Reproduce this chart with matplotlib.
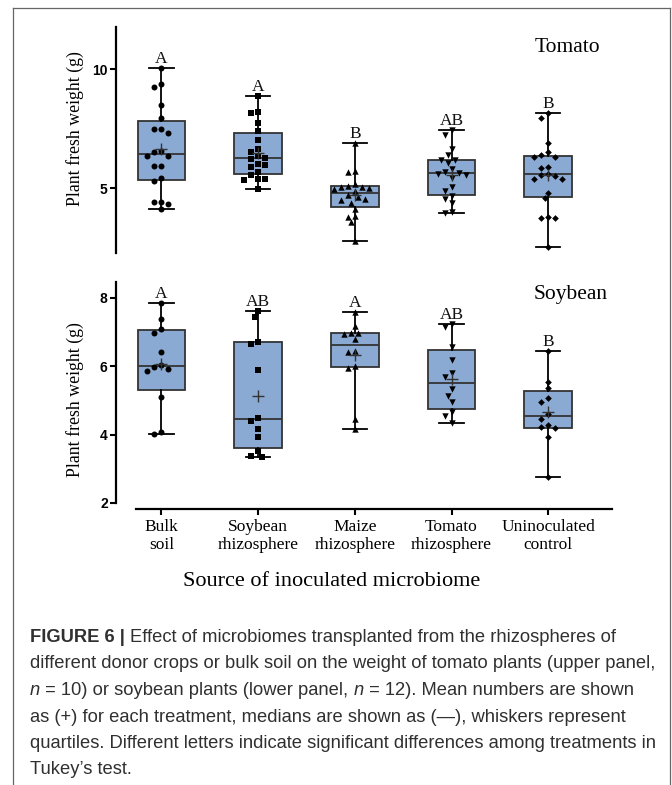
import numpy as np
import matplotlib
matplotlib.use("Agg")
import matplotlib.pyplot as plt
from matplotlib.lines import Line2D

# ---------------- data ----------------
categories = ["Bulk\nsoil", "Soybean\nrhizosphere", "Maize\nrhizosphere",
              "Tomato\nrhizosphere", "Uninoculated\ncontrol"]

tomato_bulk = [10.07, 9.38, 9.24, 8.50, 7.97, 7.48, 7.48, 7.31, 6.57, 6.54,
               6.37, 6.37, 5.94, 5.94, 5.45, 5.32, 4.44, 4.41, 4.34, 4.13]
tomato_soybean = [8.88, 8.21, 8.17, 7.76, 7.41, 7.03, 6.64, 6.54, 6.34, 6.27,
                  6.24, 6.03, 5.98, 5.88, 5.70, 5.55, 5.38, 5.38, 5.33, 4.97]
tomato_maize = [6.92, 5.72, 5.70, 5.18, 5.10, 5.07, 5.04, 5.00, 4.97, 4.88,
                4.72, 4.62, 4.55, 4.50, 4.40, 4.15, 3.84, 3.81, 3.57, 2.79]
tomato_tomato = [7.46, 7.24, 6.64, 6.40, 6.20, 6.18, 6.05, 5.80, 5.70, 5.66,
                 5.60, 5.56, 5.45, 5.07, 4.90, 4.68, 4.54, 4.37, 4.02, 3.97]
tomato_uninoc = [8.18, 7.97, 6.92, 6.54, 6.38, 6.33, 6.30, 5.91, 5.84, 5.62,
                 5.56, 5.52, 5.38, 5.38, 4.82, 4.58, 3.81, 3.74, 3.74, 2.55]

soy_bulk = [7.86, 7.37, 7.08, 6.98, 6.40, 6.03, 5.98, 5.91, 5.87, 5.11, 4.07, 4.02]
soy_soybean = [7.62, 7.44, 6.71, 6.65, 5.89, 4.49, 4.41, 4.15, 3.92, 3.52, 3.37, 3.35]
soy_maize = [7.59, 7.17, 6.98, 6.96, 6.95, 6.79, 6.44, 6.42, 6.00, 5.95, 4.47, 4.15]
soy_tomato = [7.23, 7.15, 6.57, 6.18, 5.79, 5.67, 5.33, 5.14, 4.96, 4.67, 4.54, 4.33]
soy_uninoc = [6.45, 5.55, 5.35, 5.08, 4.96, 4.60, 4.46, 4.28, 4.23, 4.18, 3.92, 2.77]

tomato_letters = ["A", "A", "B", "AB", "B"]
soybean_letters = ["A", "AB", "A", "AB", "B"]

tomato_yticks = [5, 10]
soybean_yticks = [2, 4, 6, 8]

panel_titles = ["Tomato", "Soybean"]
ylabel = "Plant fresh weight (g)"
xlabel = "Source of inoculated microbiome"

# ---------------- styles ----------------
markers = ["o", "s", "^", "v", "D"]
msizes = [4.3, 4.0, 4.6, 4.6, 3.4]
SERIF = "Liberation Serif"
SANS = "Liberation Sans"
BOXFACE = "#8aaad4"
EDGE = "#333333"

W, H = 672, 785
fig = plt.figure(figsize=(W / 100, H / 100), dpi=100)


def fx(px):
    return px / W


def fy(py):
    return 1 - py / H


axT = fig.add_axes([fx(116), fy(253), fx(612) - fx(116), fy(27) - fy(253)])
axB = fig.add_axes([fx(116), fy(503), fx(612) - fx(116), fy(282) - fy(503)])

XLIM = (-0.47, 4.66)


def stats(vals):
    v = np.asarray(vals, float)
    q1, med, q3 = np.percentile(v, [25, 50, 75], method="weibull")
    return dict(med=med, q1=q1, q3=q3, whislo=v.min(), whishi=v.max(),
                mean=v.mean(), fliers=[])


def swarm_x(ax, pos, vals, diam):
    vals = np.asarray(vals, float)
    tr = ax.transData
    pts = tr.transform(np.column_stack([np.full(len(vals), pos), vals]))
    order = np.argsort(-vals)
    placed = []
    xs = np.empty(len(vals))
    cands = [0.0]
    for j in range(1, 30):
        cands += [-j * 0.5, j * 0.5]
    for i in order:
        x0, y0 = pts[i]
        for c in cands:
            x = x0 + c * diam
            ok = all((x - px) ** 2 + (y0 - py) ** 2 >= (diam * 0.95) ** 2
                     for px, py in placed)
            if ok:
                break
        placed.append((x, y0))
        xs[i] = x
    back = tr.inverted().transform(np.column_stack([xs, pts[:, 1]]))
    return back[:, 0]


def draw_panel(ax, groups, letters, ylim, yticks):
    ax.set_xlim(*XLIM)
    ax.set_ylim(*ylim)
    st = [stats(g) for g in groups]
    ax.bxp(st, positions=range(len(groups)), widths=0.49, capwidths=0.25,
           patch_artist=True, showmeans=True, manage_ticks=False,
           boxprops=dict(facecolor=BOXFACE, edgecolor=EDGE, linewidth=1.3),
           medianprops=dict(color=EDGE, linewidth=1.3),
           whiskerprops=dict(color="black", linewidth=1.3),
           capprops=dict(color="black", linewidth=1.3),
           meanprops=dict(marker="+", markeredgecolor=EDGE, markersize=8,
                          markeredgewidth=1.0, zorder=6))
    for i, g in enumerate(groups):
        xs = swarm_x(ax, i, g, 7.0)
        ax.scatter(xs, g, marker=markers[i], s=msizes[i] ** 2, color="black",
                   linewidths=0, zorder=5)
        ax.annotate(letters[i], xy=(i, max(g)), xytext=(0, 3.6),
                    textcoords="offset points", ha="center", va="baseline",
                    fontsize=12.5, family=SERIF, color="#111111")
    ax.set_yticks(yticks)
    ax.set_yticklabels([str(t) for t in yticks], fontsize=10,
                       fontweight="bold", family=SANS)
    for s in ["top", "right"]:
        ax.spines[s].set_visible(False)
    ax.spines["left"].set_linewidth(1.6)
    ax.tick_params(axis="y", direction="out", length=4.5, width=1.5, pad=1.5)


draw_panel(axT, [tomato_bulk, tomato_soybean, tomato_maize, tomato_tomato,
                 tomato_uninoc], tomato_letters, (2.28, 11.78), tomato_yticks)
axT.spines["bottom"].set_visible(False)
axT.set_xticks([])

draw_panel(axB, [soy_bulk, soy_soybean, soy_maize, soy_tomato, soy_uninoc],
           soybean_letters, (2.0, 8.46), soybean_yticks)
axB.spines["bottom"].set_position(("outward", 4.3))
axB.spines["bottom"].set_bounds(-0.26, XLIM[1])
axB.spines["bottom"].set_linewidth(1.6)
axB.set_xticks(range(len(categories)))
axB.set_xticklabels(categories, fontsize=12.5, family=SERIF, linespacing=1.2)
axB.tick_params(axis="x", direction="out", length=4.0, width=1.5, pad=3)

# panel titles
axT.text(fx(567), fy(47), panel_titles[0], transform=fig.transFigure,
         ha="center", va="center", fontsize=15.5, family=SERIF)
axB.text(fx(571), fy(295), panel_titles[1], transform=fig.transFigure,
         ha="center", va="center", fontsize=15.5, family=SERIF)

# y labels
fig.text(fx(75), fy(129), ylabel, rotation=90, ha="center", va="center",
         fontsize=12.8, family=SERIF)
fig.text(fx(75), fy(400), ylabel, rotation=90, ha="center", va="center",
         fontsize=12.8, family=SERIF)

# x label
fig.text(fx(332), fy(582), xlabel, ha="center", va="center", fontsize=16,
         family=SERIF)

# frame
for (x0, y0, x1, y1) in [(13, 8, 13, H), (13, 8, 670, 8), (670, 8, 670, H)]:
    fig.add_artist(Line2D([fx(x0), fx(x1)], [fy(y0), fy(y1)],
                          transform=fig.transFigure, color="#666666", lw=0.9))

# caption
caption = [
    [("FIGURE 6 |", "bold"), (" ", "normal"),
     ("Effect of microbiomes transplanted from the rhizospheres of", "normal")],
    [("different donor crops or bulk soil on the weight of tomato plants (upper panel,", "normal")],
    [("n", "italic"), (" = 10) or soybean plants (lower panel, ", "normal"),
     ("n", "italic"), (" = 12). Mean numbers are shown", "normal")],
    [("as (+) for each treatment, medians are shown as (\u2014), whiskers represent", "normal")],
    [("quartiles. Different letters indicate significant differences among treatments in", "normal")],
    [("Tukey\u2019s test.", "normal")],
]
CAP_FS = 13.2
CAP_COLOR = "#303030"
fig.canvas.draw()
rend = fig.canvas.get_renderer()


def twidth(s, style):
    kw = dict(fontsize=CAP_FS, family=SANS)
    if style == "bold":
        kw["fontweight"] = "bold"
    if style == "italic":
        kw["style"] = "italic"
    # pad with visible chars so leading/trailing spaces are measured
    t1 = fig.text(0, 0, "x" + s + "x", **kw)
    t2 = fig.text(0, 0, "xx", **kw)
    w = t1.get_window_extent(rend).width - t2.get_window_extent(rend).width
    t1.remove()
    t2.remove()
    return w, kw


base0 = 642
step = 26.5
for li, parts in enumerate(caption):
    x = 30.0
    y = base0 + li * step
    for s, style in parts:
        w, kw = twidth(s, style)
        fig.text(fx(x), fy(y), s, ha="left", va="baseline", color=CAP_COLOR, **kw)
        x += w

fig.savefig("out.png", dpi=100)
